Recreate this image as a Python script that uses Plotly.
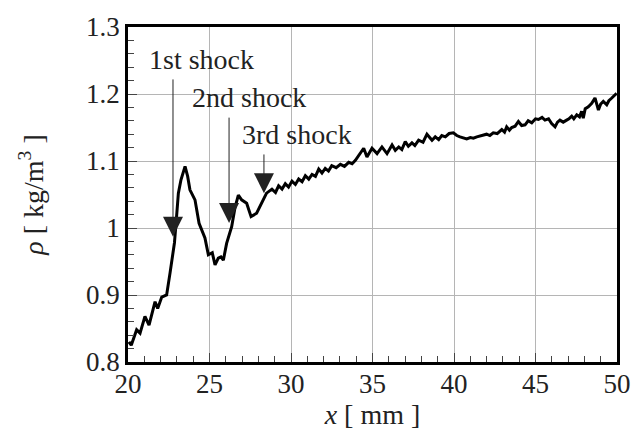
import plotly.graph_objects as go

x_mm = [20.06, 20.2, 20.53, 20.74, 21.04, 21.29, 21.66, 21.82, 22.07, 22.37, 22.58, 22.85,
        22.98, 23.09, 23.25, 23.5, 23.66, 23.8, 24.11, 24.36, 24.72, 24.93, 25.17, 25.34,
        25.54, 25.7, 25.85, 26.05, 26.36, 26.56, 26.77, 26.97, 27.28, 27.55, 27.89, 28.2,
        28.5, 28.83, 29.05, 29.24, 29.45, 29.65, 29.85, 30.06, 30.27, 30.47, 30.68, 30.88,
        31.09, 31.29, 31.5, 31.7, 31.9, 32.1, 32.3, 32.5, 32.77, 33.03, 33.28, 33.54,
        33.75, 33.95, 34.25, 34.46, 34.66, 34.97, 35.28, 35.58, 35.89, 36.2, 36.4, 36.61,
        36.8, 37.01, 37.2, 37.42, 37.6, 37.83, 38.1, 38.34, 38.65, 38.85, 39.06, 39.25,
        39.47, 39.7, 39.96, 40.17, 40.37, 40.58, 40.78, 41.0, 41.19, 41.4, 41.6, 41.8,
        42.0, 42.2, 42.41, 42.65, 42.93, 43.1, 43.23, 43.4, 43.54, 43.75, 43.95, 44.15,
        44.36, 44.55, 44.77, 45.0, 45.18, 45.4, 45.58, 45.8, 45.99, 46.2, 46.35, 46.5,
        46.7, 46.91, 47.05, 47.22, 47.35, 47.53, 47.7, 47.83, 47.93, 48.05, 48.24, 48.45,
        48.65, 48.78, 48.86, 49.0, 49.16, 49.37, 49.5, 49.68, 49.98]
rho = [0.83, 0.825, 0.848, 0.843, 0.868, 0.855, 0.89, 0.88, 0.897, 0.9, 0.933, 0.978,
       1.017, 1.052, 1.072, 1.092, 1.077, 1.057, 1.042, 1.007, 0.985, 0.96, 0.963, 0.945,
       0.955, 0.957, 0.952, 0.977, 1.002, 1.03, 1.049, 1.042, 1.037, 1.017, 1.022, 1.037,
       1.052, 1.058, 1.053, 1.063, 1.058, 1.066, 1.061, 1.07, 1.065, 1.073, 1.069, 1.078,
       1.073, 1.08, 1.077, 1.088, 1.082, 1.089, 1.085, 1.093, 1.09, 1.095, 1.092, 1.098,
       1.096, 1.101, 1.111, 1.119, 1.106, 1.119, 1.111, 1.121, 1.111, 1.124, 1.116, 1.121,
       1.117, 1.129, 1.122, 1.127, 1.123, 1.131, 1.128, 1.14, 1.131, 1.136, 1.132, 1.138,
       1.136, 1.141, 1.142, 1.138, 1.136, 1.134, 1.133, 1.135, 1.134, 1.136, 1.137, 1.139,
       1.14, 1.138, 1.142, 1.141, 1.147, 1.143, 1.151, 1.146, 1.15, 1.152, 1.159, 1.153,
       1.154, 1.16, 1.157, 1.163, 1.162, 1.165, 1.161, 1.163, 1.156, 1.151, 1.158, 1.161,
       1.158, 1.161, 1.163, 1.167, 1.163, 1.169, 1.166, 1.174, 1.164, 1.178, 1.181, 1.186,
       1.194, 1.183, 1.176, 1.185, 1.189, 1.184, 1.19, 1.194, 1.201]

labels = ["1st shock", "2nd shock", "3rd shock"]
label_x = [24.51, 27.42, 30.34]
label_y = [1.252, 1.195, 1.139]
arrow_x = [22.76, 26.2, 28.34]
arrow_tip = [0.987, 1.0075, 1.052]
arrow_tail = [1.224, 1.167, 1.112]

FONT = "Liberation Serif, Times New Roman, serif"

fig = go.Figure()
fig.add_trace(go.Scatter(x=x_mm, y=rho, mode="lines",
                         line=dict(color="black", width=3), showlegend=False))

for t, lx, ly in zip(labels, label_x, label_y):
    fig.add_annotation(x=lx, y=ly, text=t, showarrow=False,
                       font=dict(family=FONT, size=28, color="#222"))
for ax_, tip, tail in zip(arrow_x, arrow_tip, arrow_tail):
    fig.add_annotation(x=ax_, y=tip, ax=ax_, ay=tail, axref="x", ayref="y",
                       text="", showarrow=True, arrowhead=2, arrowsize=4,
                       arrowwidth=1, arrowcolor="#222")

axis_common = dict(showline=True, linecolor="black", linewidth=2.5, mirror=True,
                   ticks="inside", ticklen=9, tickcolor="#444", tickwidth=1,
                   showgrid=True, gridcolor="#b5b5b5", gridwidth=1, zeroline=False,
                   automargin=False,
                   tickfont=dict(family=FONT, size=27, color="#222"))

fig.update_xaxes(range=[20, 50], tickmode="linear", tick0=20, dtick=5,
                 ticklabelstandoff=-4,
                 minor=dict(ticks="inside", ticklen=6, dtick=1, tickcolor="#444", showgrid=False),
                 title=dict(text="<i>x</i> [ mm ]", font=dict(family=FONT, size=28, color="#222"),
                            standoff=12),
                 **axis_common)
fig.update_yaxes(range=[0.8, 1.3], tickmode="array",
                 tickvals=[0.8, 0.9, 1.0, 1.1, 1.2, 1.3],
                 ticktext=["0.8", "0.9", "1", "1.1", "1.2", "1.3"],
                 minor=dict(ticks="inside", ticklen=6, dtick=0.02, tickcolor="#444", showgrid=False),
                 title=dict(text="<i>ρ</i> [ kg/m<sup>3</sup> ]",
                            font=dict(family=FONT, size=28, color="#222"), standoff=35),
                 **axis_common)

fig.update_layout(width=632, height=430, margin=dict(l=128, r=15, t=27, b=68),
                  paper_bgcolor="white", plot_bgcolor="white")

fig.write_html("out.html")
